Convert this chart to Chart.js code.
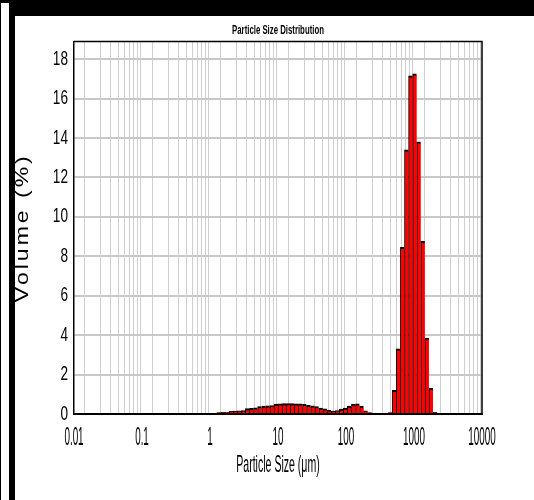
<!DOCTYPE html>
<html>
<head>
<meta charset="utf-8">
<script src="https://cdn.jsdelivr.net/npm/chart.js@4.4.1/dist/chart.umd.min.js"></script>
<style>
  html, body { margin: 0; padding: 0; background: #fff; }
  #wrap { position: relative; width: 534px; height: 500px; overflow: hidden; }
  #wrap canvas { position: absolute; left: 0; top: 0; }
  .edge { position: absolute; background: #000; }
</style>
</head>
<body>
<div id="wrap">
  <canvas id="psd" width="534" height="500"></canvas>
  <div class="edge" style="left:0;top:0;width:534px;height:3px"></div>
  <div class="edge" style="left:0;top:0;width:1px;height:500px"></div>
  <div class="edge" style="left:9px;top:0;width:525px;height:16px"></div>
  <div class="edge" style="left:9px;top:0;width:6px;height:500px"></div>
</div>
<script>
// size class edges (um), Mastersizer classes 34..89
const sizeEdges = [1.096, 1.259, 1.445, 1.660, 1.905, 2.188, 2.512, 2.884, 3.311, 3.802,
  4.365, 5.012, 5.754, 6.607, 7.586, 8.710, 10.000, 11.482, 13.183, 15.136,
  17.378, 19.953, 22.909, 26.303, 30.200, 34.674, 39.811, 45.709, 52.481, 60.256,
  69.183, 79.433, 91.201, 104.713, 120.226, 138.038, 158.489, 181.970, 208.930, 239.883,
  275.423, 316.228, 363.078, 416.869, 478.630, 549.541, 630.957, 724.436, 831.764, 954.993,
  1096.478, 1258.925, 1445.440, 1659.587, 1905.461, 2187.762]

// volume % in each class
const volume = [0, 0.07, 0.08, 0.09, 0.14, 0.15, 0.16, 0.17, 0.27, 0.29,
  0.31, 0.38, 0.40, 0.41, 0.43, 0.50, 0.52, 0.53, 0.53, 0.53,
  0.52, 0.51, 0.49, 0.44, 0.41, 0.38, 0.30, 0.26, 0.18, 0.15,
  0.17, 0.25, 0.30, 0.40, 0.50, 0.52, 0.40, 0.16, 0.07, 0,
  0, 0, 0, 0.07, 1.2, 3.3, 8.45, 13.4, 17.15, 17.26,
  13.8, 8.76, 3.85, 1.3, 0.08]

const xTickLabels = ['0.01', '0.1', '1', '10', '100', '1000', '10000']
const yTicks = [0, 2, 4, 6, 8, 10, 12, 14, 16, 18]

// the reference text is narrow (and the y title spaced out), keyed by font px size
const squeeze = { 12: 0.65, 20: 0.68, 23: 0.8, 24: 0.44, 26: 0.38 }
const spacing = { 23: '3px' }

const canvas = document.getElementById('psd')
const ctx = canvas.getContext('2d')
const plainFill = ctx.fillText.bind(ctx)
ctx.fillText = function (text, x, y, maxWidth) {
  const m = this.font.match(/(\d+(?:\.\d+)?)px/)
  const size = m ? +m[1] : 0
  const sx = squeeze[size] || 1
  const ls = spacing[size]
  if (sx === 1 && !ls) return plainFill(text, x, y, maxWidth)
  const t = this.getTransform()
  const px = t.a * x + t.c * y + t.e
  this.save()
  if (ls) this.letterSpacing = ls
  this.setTransform(sx, 0, 0, 1, px * (1 - sx), 0)
  this.transform(t.a, t.b, t.c, t.d, t.e, t.f)
  plainFill(text, x, y)
  this.restore()
}

const points = volume.map((v, i) => ({ x: Math.sqrt(sizeEdges[i] * sizeEdges[i + 1]), y: v }))

// minor log grid: 1..9 in every decade
const logTicks = []
xTickLabels.forEach((lab, d) => {
  const base = Number(lab)
  if (d === xTickLabels.length - 1) { logTicks.push(base); return }
  for (let k = 1; k <= 9; k++) logTicks.push(+(k * base).toPrecision(3))
})

const framePlugin = {
  id: 'frame',
  beforeDatasetsDraw(chart) {
    const { ctx, chartArea: a } = chart
    ctx.save()
    ctx.strokeStyle = '#000'
    ctx.lineWidth = 1.5
    ctx.beginPath()
    ctx.moveTo(a.left, a.top)
    ctx.lineTo(a.right, a.top)
    ctx.lineTo(a.right, a.bottom)
    ctx.stroke()
    ctx.restore()
  }
}

const fam = "'Liberation Sans', Arial, sans-serif"

new Chart(ctx, {
  type: 'bar',
  data: {
    datasets: [{
      data: points,
      backgroundColor: '#ff0000',
      borderColor: '#000',
      borderWidth: { top: 2, left: 1, right: 0, bottom: 0 },
      barThickness: 'flex',
      barPercentage: 1,
      categoryPercentage: 1
    }]
  },
  options: {
    responsive: false,
    animation: false,
    layout: { padding: { left: 0, right: 52, top: 0, bottom: 0 } },
    plugins: {
      legend: { display: false },
      tooltip: { enabled: false },
      title: {
        display: true,
        text: 'Particle Size Distribution',
        color: '#000',
        fullSize: false,
        font: { family: fam, size: 12, weight: 'bold' },
        padding: { top: 23, bottom: 4 }
      }
    },
    scales: {
      x: {
        type: 'logarithmic',
        min: 0.01,
        max: 10000,
        afterBuildTicks: (s) => { s.ticks = logTicks.map(v => ({ value: v })) },
        afterFit: (s) => { s.height = 86 },
        grid: { color: '#cfcfcf', lineWidth: 1, drawTicks: false },
        border: { color: '#000', width: 2 },
        ticks: {
          autoSkip: false,
          maxRotation: 0,
          padding: 8,
          color: '#000',
          font: { family: fam, size: 26 },
          callback: (v) => {
            const i = xTickLabels.findIndex(l => Math.abs(Number(l) - v) < 1e-9)
            return i >= 0 ? xTickLabels[i] : ''
          }
        },
        title: {
          display: true,
          text: 'Particle Size (μm)',
          color: '#000',
          font: { family: fam, size: 24 },
          padding: { top: 0, bottom: 20 }
        }
      },
      y: {
        min: 0,
        max: 18.9,
        afterBuildTicks: (s) => { s.ticks = yTicks.map(v => ({ value: v })) },
        afterFit: (s) => { s.width = 74 },
        grid: { color: '#c8c8c8', lineWidth: 2, drawTicks: false },
        border: { color: '#000', width: 1.5 },
        ticks: {
          padding: 6,
          color: '#000',
          font: { family: fam, size: 20 }
        },
        title: {
          display: true,
          text: 'Volume (%)',
          color: '#000',
          font: { family: fam, size: 23 },
          padding: { top: 9, bottom: 0 }
        }
      }
    }
  },
  plugins: [framePlugin]
})
</script>
</body>
</html>
